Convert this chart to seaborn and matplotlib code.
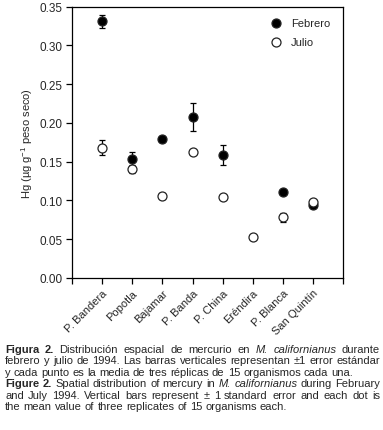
"""Hg en M. californianus, febrero y julio de 1994 (Figura 2)."""
import matplotlib
matplotlib.use("Agg")
import matplotlib.pyplot as plt
import numpy as np
import pandas as pd
import seaborn as sns

SITES = ["P. Bandera", "Popotla", "Bajamar", "P. Banda", "P. China",
         "Eréndira", "P. Blanca", "San Quintín"]
FEB = [0.331, 0.153, 0.179, 0.208, 0.159, np.nan, 0.111, 0.094]
FEB_ERR = [0.008, 0.009, 0.004, 0.018, 0.013, 0.0, 0.0, 0.0]
JUL = [0.168, 0.141, 0.106, 0.162, 0.104, 0.053, 0.078, 0.098]
JUL_ERR = [0.010, 0.005, 0.004, 0.0, 0.0, 0.0, 0.006, 0.0]
Y_TICKS = [0.00, 0.05, 0.10, 0.15, 0.20, 0.25, 0.30, 0.35]

CAPTION = [
    ([("Figura 2.", "bold"), ("Distribución  espacial de mercurio en", "normal"),
      ("M. californianus", "italic"), ("durante", "normal")], True),
    ([("febrero y julio de 1994. Las barras verticales representan ±1 error estándar", "normal")], True),
    ([("y cada punto es la media de tres réplicas de 15 organismos cada una.", "normal")], False),
    ([("Figure 2.", "bold"), ("Spatial distribution of mercury in", "normal"),
      ("M. californianus", "italic"), ("during February", "normal")], True),
    ([("and July 1994. Vertical bars represent ± 1 standard error and each dot is", "normal")], True),
    ([("the mean value of three replicates of 15 organisms each.", "normal")], False),
]

sns.set_style("ticks")
plt.rcParams["font.family"] = ["Liberation Sans", "DejaVu Sans"]
plt.rcParams["mathtext.fontset"] = "custom"
plt.rcParams["mathtext.rm"] = "Liberation Sans"
plt.rcParams["mathtext.it"] = "Liberation Sans:italic"

pos = np.arange(1, len(SITES) + 1)
df = pd.DataFrame({
    "pos": np.concatenate([pos, pos]),
    "hg": FEB + JUL,
    "err": FEB_ERR + JUL_ERR,
    "mes": ["Febrero"] * len(SITES) + ["Julio"] * len(SITES),
})

fig = plt.figure(figsize=(3.83, 4.31), dpi=100)
ax = fig.add_axes([0.188, 0.353, 0.708, 0.629])

for mes, face in [("Febrero", "black"), ("Julio", "white")]:
    d = df[df["mes"] == mes]
    ax.errorbar(d["pos"], d["hg"], yerr=d["err"], fmt="none", ecolor="black",
                elinewidth=0.9, capsize=2.5, capthick=0.9, zorder=2)
    sns.scatterplot(data=d, x="pos", y="hg", ax=ax, color=face, edgecolor="#222222",
                    linewidth=0.9, s=42, label=mes, zorder=3)

ax.set_xlim(0, 9)
ax.set_ylim(0, 0.35)
ax.set_xticks(np.arange(0, 10))
ax.set_xticklabels([""] + SITES + [""], rotation=45, ha="right",
                   rotation_mode="anchor", fontsize=8)
ax.set_yticks(Y_TICKS)
ax.set_yticklabels([f"{v:.2f}" for v in Y_TICKS], fontsize=8.5)
ax.tick_params(direction="out", length=4, width=0.9, color="black", pad=3)
ax.set_xlabel("")
ax.set_ylabel("Hg (µg g$^{-1}$ peso seco)", fontsize=8, labelpad=3)
for sp in ax.spines.values():
    sp.set_visible(True)
    sp.set_linewidth(0.9)
    sp.set_color("black")

ax.legend(frameon=False, loc="upper right", fontsize=8, handletextpad=0.4,
          borderaxespad=0.5, labelspacing=0.8, bbox_to_anchor=(0.99, 0.995))

# caption, justified line by line
renderer = fig.canvas.get_renderer()
cap_fs = 8
x0, x1 = 5 / 383, 380 / 383
y = 1 - 350 / 431
dy = 11.5 / 431


def measure(s, weight="normal", style="normal"):
    t = fig.text(0, 0, s, fontsize=cap_fs, weight=weight, style=style)
    w = t.get_window_extent(renderer).width / fig.bbox.width
    t.remove()
    return w


space = measure("a a") - measure("aa")
for parts, justify in CAPTION:
    words = []
    for text, kind in parts:
        weight = "bold" if kind == "bold" else "normal"
        style = "italic" if kind == "italic" else "normal"
        for w in text.split(" "):
            if w:
                words.append((w, weight, style))
    widths = [measure(w, wt, st) for w, wt, st in words]
    gap = (x1 - x0 - sum(widths)) / (len(words) - 1) if justify else space
    x = x0
    for (w, wt, st), wd in zip(words, widths):
        fig.text(x, y, w, fontsize=cap_fs, weight=wt, style=st, va="center")
        x += wd + gap
    y -= dy

fig.savefig("out.png", dpi=100)
